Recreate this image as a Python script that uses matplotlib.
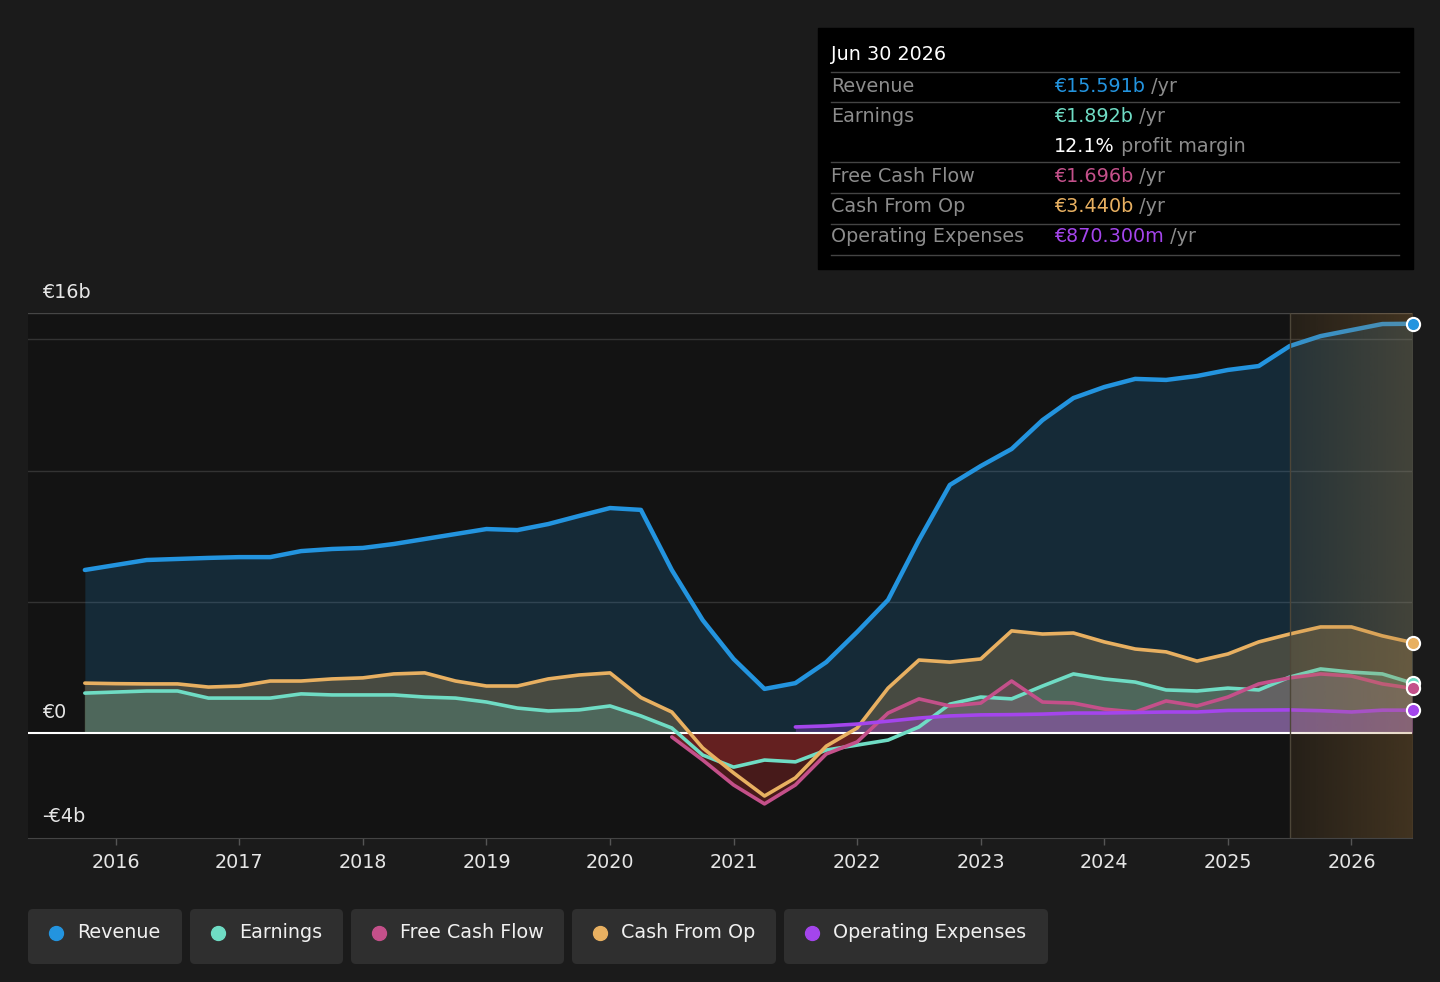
import numpy as np
import matplotlib
matplotlib.use("Agg")
import matplotlib.pyplot as plt
from matplotlib.patches import Rectangle, FancyBboxPatch
from matplotlib.lines import Line2D
from matplotlib.text import Annotation

W, H = 1440, 982

# quarterly dates (decimal years), values in € billions
dates = np.arange(2015.75, 2026.51, 0.25)

revenue = [6.21, 6.40, 6.59, 6.63, 6.67, 6.70, 6.70, 6.93, 7.01, 7.05, 7.20,
           7.39, 7.58, 7.77, 7.73, 7.96, 8.27, 8.57, 8.50, 6.21, 4.30, 2.82,
           1.68, 1.90, 2.70, 3.85, 5.07, 7.35, 9.45, 10.17, 10.82, 11.92, 12.76,
           13.18, 13.49, 13.45, 13.60, 13.83, 13.98, 14.74, 15.12, 15.35, 15.58,
           15.591]
earnings = [1.52, 1.56, 1.60, 1.60, 1.33, 1.33, 1.33, 1.49, 1.45, 1.45, 1.45,
            1.37, 1.33, 1.18, 0.95, 0.84, 0.88, 1.03, 0.65, 0.19, -0.84, -1.30,
            -1.03, -1.10, -0.65, -0.46, -0.27, 0.23, 1.10, 1.37, 1.30, 1.79, 2.25,
            2.06, 1.94, 1.64, 1.60, 1.71, 1.64, 2.13, 2.44, 2.32, 2.25, 1.892]
free_cash_flow = [None] * 19 + [
    -0.15, -1.03, -1.98, -2.70, -1.98, -0.80, -0.34, 0.76, 1.30, 1.03, 1.14,
    1.98, 1.18, 1.14, 0.91, 0.80, 1.22, 1.03, 1.37, 1.87, 2.10, 2.25, 2.17,
    1.87, 1.696]
cash_from_op = [1.90, 1.88, 1.87, 1.87, 1.75, 1.79, 1.98, 1.98, 2.06, 2.10, 2.25,
                2.29, 1.98, 1.79, 1.79, 2.06, 2.21, 2.29, 1.35, 0.80, -0.57, -1.52,
                -2.40, -1.71, -0.50, 0.19, 1.71, 2.78, 2.70, 2.82, 3.89, 3.77, 3.81,
                3.47, 3.20, 3.09, 2.74, 3.01, 3.47, 3.77, 4.04, 4.04, 3.70, 3.44]
op_expenses = [None] * 23 + [
    0.23, 0.27, 0.34, 0.45, 0.57, 0.65, 0.69, 0.70, 0.72, 0.76, 0.76, 0.78,
    0.80, 0.80, 0.86, 0.87, 0.88, 0.85, 0.80, 0.87, 0.8703]

year_ticks = list(range(2016, 2027))
y_labels = {16: "€16b", 0: "€0", -4: "-€4b"}
forecast_start = 2025.5

names = ["Revenue", "Earnings", "Free Cash Flow", "Cash From Op", "Operating Expenses"]
colors = ["#2394df", "#6fdcc4", "#c4508a", "#e8b061", "#a445ec"]
tip_values = ["€15.591b", "€1.892b", "€1.696b", "€3.440b", "€870.300m"]

rev = np.array(revenue, dtype=float)
ear = np.array(earnings, dtype=float)
fcf = np.array(free_cash_flow, dtype=float)
cfo = np.array(cash_from_op, dtype=float)
opx = np.array(op_expenses, dtype=float)

plt.rcParams["font.family"] = ["DejaVu Sans"]
FS = 13.8
fig = plt.figure(figsize=(W / 100, H / 100), dpi=100, facecolor="#1b1b1b")
ax = fig.add_axes([28 / W, 1 - 838 / H, (1412 - 28) / W, (838 - 313) / H])
ax.set_facecolor("#131313")

# filled areas
ax.fill_between(dates, 0, rev, color="#2394df", alpha=0.18, lw=0, zorder=1)
ax.fill_between(dates, 0, cfo, where=cfo >= 0, interpolate=True,
                color="#e8b061", alpha=0.24, lw=0, zorder=1.1)
ax.fill_between(dates, 0, ear, where=ear >= 0, interpolate=True,
                color="#6fdcc4", alpha=0.20, lw=0, zorder=1.2)
m = ~np.isnan(fcf)
ax.fill_between(dates[m], 0, fcf[m], where=fcf[m] >= 0, interpolate=True,
                color="#c4508a", alpha=0.18, lw=0, zorder=1.3)
ax.fill_between(dates[m], 0, fcf[m], where=fcf[m] < 0, interpolate=True,
                color="#c83232", alpha=0.45, lw=0, zorder=1.3)
ax.fill_between(dates[m], ear[m], fcf[m], where=(fcf[m] < ear[m]) & (ear[m] < 0),
                interpolate=True, color="#111111", alpha=0.35, lw=0, zorder=1.35)
m2 = ~np.isnan(opx)
ax.fill_between(dates[m2], 0, opx[m2], color="#a445ec", alpha=0.30, lw=0, zorder=1.4)

# grid lines
for v in [5, 10, 15]:
    ax.axhline(v, color="#333333", lw=1, zorder=0.5)
ax.axhline(16, color="#464646", lw=1, zorder=0.5)
ax.axhline(0, color="white", lw=1.5, zorder=2)

# lines
series = [rev, ear, fcf, cfo, opx]
widths = [3.2, 2.6, 2.6, 2.6, 2.6]
order = [0, 3, 1, 2, 4]
for i in order:
    ax.plot(dates, series[i], color=colors[i], lw=widths[i], zorder=3 + i * 0.1,
            solid_capstyle="round", solid_joinstyle="round")

# forecast shading
grad = np.zeros((1, 256, 4))
grad[..., 0] = 176 / 255
grad[..., 1] = 128 / 255
grad[..., 2] = 64 / 255
grad[..., 3] = np.linspace(0.12, 0.30, 256)
ax.imshow(grad, extent=[forecast_start, dates[-1], -4, 16], aspect="auto", zorder=4)
ax.axvline(forecast_start, color="#4d4638", lw=1, zorder=4.1)

# end markers
for i in order:
    ax.plot(dates[-1], series[i][-1], "o", ms=9.5, mfc=colors[i], mec="white",
            mew=1.5, zorder=6, clip_on=False)

ax.set_xlim(2015.29, 2026.49)
ax.set_ylim(-4, 16)
ax.set_xticks(year_ticks)
ax.set_xticklabels([str(y) for y in year_ticks])
ax.tick_params(axis="x", colors="#555555", labelcolor="#e6e6e6", labelsize=FS,
               length=5, width=1, pad=6)
ax.set_yticks([])
for s in ["top", "left", "right"]:
    ax.spines[s].set_visible(False)
ax.spines["bottom"].set_color("#444444")

# y labels drawn inside the plot
for v, txt in y_labels.items():
    yy = 733 - v * 26.25 - 21
    fig.text(42 / W, 1 - yy / H, txt, color="#e6e6e6", fontsize=FS,
             ha="left", va="center")

# tooltip box
fig.add_artist(Rectangle((818 / W, 1 - 269 / H), (1413 - 818) / W, (269 - 28) / H,
                         transform=fig.transFigure, color="black", zorder=10))
fig.text(831 / W, 1 - 55 / H, "Jun 30 2026", color="white", fontsize=FS,
         va="center", zorder=11)
for yl in [72, 102, 162, 193, 224, 255]:
    fig.add_artist(Line2D([831 / W, 1399 / W], [1 - yl / H, 1 - yl / H],
                          transform=fig.transFigure, color="#444444", lw=1, zorder=11))


def tail_text(anchor, s):
    a = Annotation(s, xy=(1, 0), xycoords=anchor, ha="left", va="bottom",
                   color="#8c8c8c", fontsize=FS, zorder=12)
    fig.add_artist(a)


row_y = [86, 116, 176, 207, 237]
for i in range(5):
    fig.text(831 / W, 1 - row_y[i] / H, names[i], color="#8c8c8c", fontsize=FS,
             va="center", zorder=11)
    t = fig.text(1054 / W, 1 - row_y[i] / H, tip_values[i], color=colors[i],
                 fontsize=FS, va="center", zorder=11)
    tail_text(t, " /yr")
t = fig.text(1054 / W, 1 - 146 / H, "12.1%", color="white", fontsize=FS,
             va="center", zorder=11)
tail_text(t, " profit margin")

# legend chips
chips = [(28, 182), (190, 343), (351, 564), (572, 776), (784, 1048)]
for i, (x0, x1) in enumerate(chips):
    fig.add_artist(FancyBboxPatch((x0 / 100, (H - 964) / 100), (x1 - x0) / 100, 55 / 100,
                                  boxstyle="round,pad=0,rounding_size=0.05",
                                  transform=fig.dpi_scale_trans, color="#2f2f2f",
                                  lw=0, zorder=10))
    fig.add_artist(Line2D([(x0 + 28) / W], [1 - 933 / H], transform=fig.transFigure,
                          marker="o", ms=10, color=colors[i], lw=0, zorder=11))
    fig.text((x0 + 49) / W, 1 - 933 / H, names[i], color="#f0f0f0", fontsize=FS,
             va="center", zorder=11)

fig.savefig("out.png", dpi=100, facecolor=fig.get_facecolor())
